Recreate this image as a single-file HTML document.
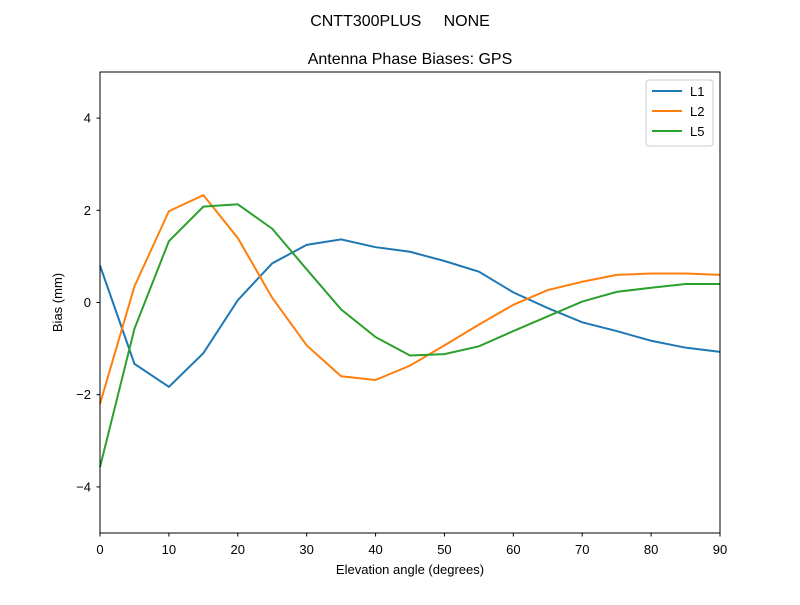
<!DOCTYPE html>
<html><head><meta charset="utf-8"><style>
body{margin:0;background:#fff;}
text{font-family:"Liberation Sans","DejaVu Sans",sans-serif;fill:#000;}
</style></head><body>
<svg id="chart" width="800" height="600" xmlns="http://www.w3.org/2000/svg">
<text x="400" y="26" font-size="16" text-anchor="middle" xml:space="preserve" style="white-space:pre">CNTT300PLUS     NONE</text>
<text x="410" y="64" font-size="16" text-anchor="middle">Antenna Phase Biases: GPS</text>
<g id="ticks"></g>
<g id="lines"></g>
<rect x="100" y="72" width="620" height="461" fill="none" stroke="#000" stroke-width="1"/>
<text x="410" y="574" font-size="13" text-anchor="middle">Elevation angle (degrees)</text>
<text transform="translate(62,302.5) rotate(-90)" font-size="13" text-anchor="middle">Bias (mm)</text>
<g>
<rect x="646" y="80" width="67" height="66" rx="3" fill="#fff" stroke="#ccc"/>
<line x1="652" y1="91" x2="682" y2="91" stroke="#1f77b4" stroke-width="2"/>
<text x="690" y="96" font-size="13">L1</text>
<line x1="652" y1="111" x2="682" y2="111" stroke="#ff7f0e" stroke-width="2"/>
<text x="690" y="116" font-size="13">L2</text>
<line x1="652" y1="131" x2="682" y2="131" stroke="#2ca02c" stroke-width="2"/>
<text x="690" y="136" font-size="13">L5</text>
</g>
</svg>
<script>
const elev=[0,5,10,15,20,25,30,35,40,45,50,55,60,65,70,75,80,85,90];
const l1=[0.8,-1.33,-1.83,-1.1,0.05,0.85,1.25,1.37,1.2,1.1,0.9,0.67,0.22,-0.12,-0.43,-0.62,-0.83,-0.98,-1.07];
const l2=[-2.2,0.35,1.98,2.33,1.4,0.1,-0.93,-1.6,-1.68,-1.37,-0.93,-0.48,-0.05,0.27,0.45,0.6,0.63,0.63,0.6];
const l5=[-3.57,-0.57,1.33,2.08,2.13,1.6,0.72,-0.15,-0.75,-1.15,-1.12,-0.95,-0.62,-0.3,0.02,0.23,0.32,0.4,0.4];
const xTicks=[0,10,20,30,40,50,60,70,80,90];
const yTicks=[-4,-2,0,2,4];
const NS="http://www.w3.org/2000/svg";
function xs(v){return 100+v*(620/90);}
function ys(v){return 302.5-v*46.1;}
const tg=document.getElementById('ticks');
xTicks.forEach(t=>{
 const l=document.createElementNS(NS,'line');
 l.setAttribute('x1',xs(t));l.setAttribute('x2',xs(t));l.setAttribute('y1',533);l.setAttribute('y2',536.5);l.setAttribute('stroke','#000');
 
 
 tg.appendChild(l);
 const tx=document.createElementNS(NS,'text');
 tx.setAttribute('x',xs(t));tx.setAttribute('y',554);tx.setAttribute('font-size','13');tx.setAttribute('text-anchor','middle');tx.textContent=t;
 
 
 tg.appendChild(tx);
});
yTicks.forEach(t=>{
 const l=document.createElementNS(NS,'line');
 l.setAttribute('x1',96.5);l.setAttribute('x2',100);l.setAttribute('y1',ys(t));l.setAttribute('y2',ys(t));l.setAttribute('stroke','#000');
 
 
 tg.appendChild(l);
 const tx=document.createElementNS(NS,'text');
 tx.setAttribute('x',91);tx.setAttribute('y',ys(t)+4.5);tx.setAttribute('font-size','13');tx.setAttribute('text-anchor','end');tx.textContent=(t<0?'\u2212'+(-t):t);
 
 
 tg.appendChild(tx);
});
const lg=document.getElementById('lines');
[[l1,'#1f77b4','line-l1'],[l2,'#ff7f0e','line-l2'],[l5,'#2ca02c','line-l5']].forEach(([d,c,n])=>{
 const p=document.createElementNS(NS,'polyline');
 p.setAttribute('points',d.map((v,i)=>xs(elev[i])+','+ys(v)).join(' '));
 p.setAttribute('fill','none');p.setAttribute('stroke',c);p.setAttribute('stroke-width','2');
 
 
 lg.appendChild(p);
});
</script>
</body></html>
